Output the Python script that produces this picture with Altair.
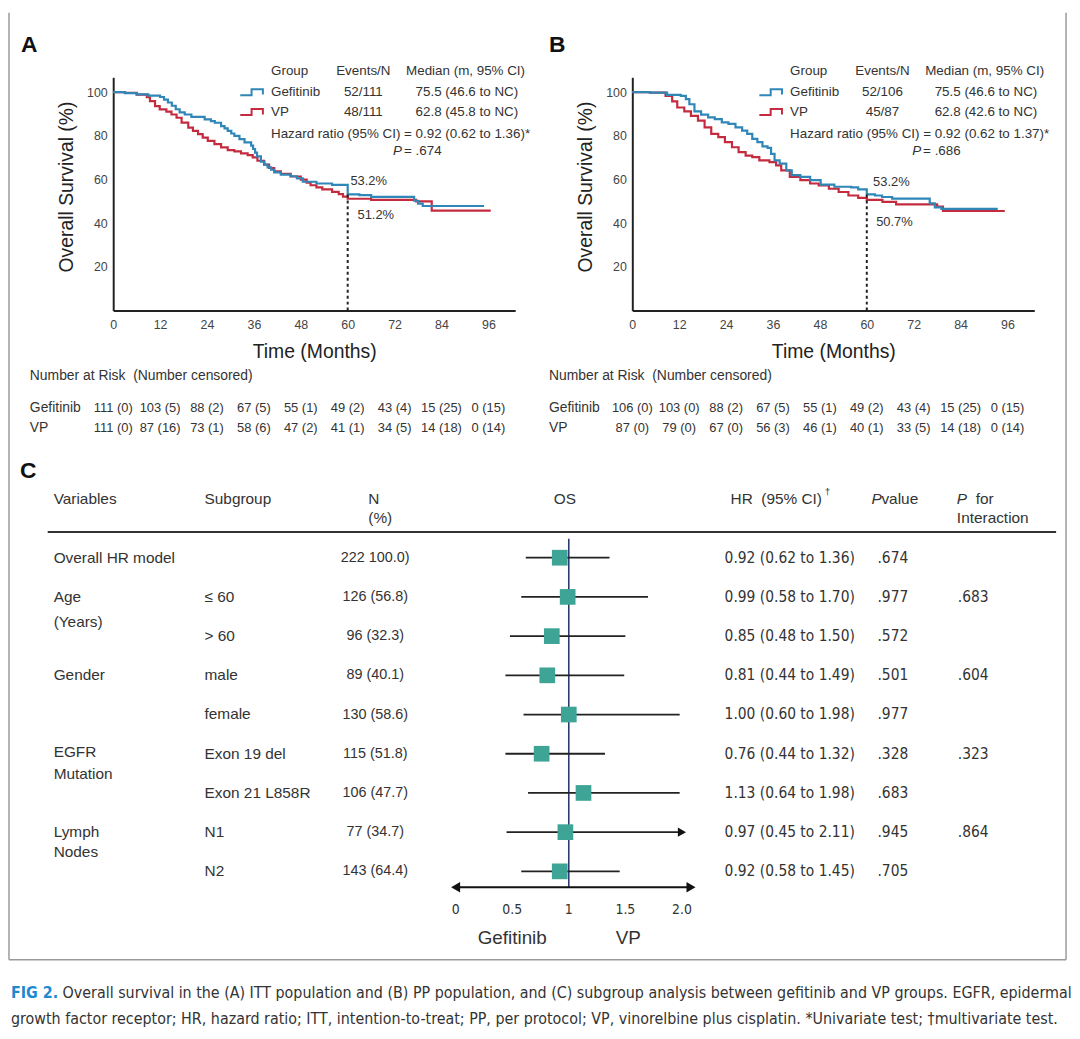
import altair as alt
import pandas as pd

FONT = "Liberation Sans, Arial, Helvetica, sans-serif"
NARROW = "Liberation Sans Narrow, Arial Narrow, DejaVu Sans Condensed, sans-serif"
BLUE = "#2f86b7"
RED = "#c42b3f"
TEAL = "#3ea495"
NAVY = "#2c3b6e"
INK = "#333333"
FIGBLUE = "#1d8ad0"
FRAME = "#9a9a9a"

# ---------------- values ----------------
tick_months = [0, 12, 24, 36, 48, 60, 72, 84, 96]
os_ticks = [20, 40, 60, 80, 100]

# Kaplan-Meier steps (month, overall survival %)
a_gef = [(0, 100), (3, 99.6), (6, 99.0), (9, 98.4), (12, 97.8), (13, 96.6), (14, 95.3), (15, 93.8),
         (16, 92.2), (17, 90.8), (18.3, 89.8), (20, 88.7), (23.4, 87.6), (25, 86.8), (26, 86.0),
         (27.6, 84.5), (28.5, 83.4), (29.3, 82.3), (30.2, 81.1), (31, 80.0), (32.3, 78.5), (33.6, 77.0),
         (35.3, 75.5), (35.8, 74.0), (36.3, 72.3), (36.8, 70.6), (37.8, 68.2), (38.7, 66.8), (39.5, 65.6),
         (40.4, 64.5), (41.2, 63.3), (42.9, 62.3), (45.4, 61.5), (47, 60.5), (48.5, 59.0), (52, 58.2),
         (56, 57.6), (60, 53.2), (63, 52.9), (66, 52.1), (77, 50.3), (78, 49.0), (79.2, 47.9), (94.9, 47.9)]
a_vp = [(0, 100), (3, 99.7), (6, 98.9), (8.6, 97.7), (9.4, 95.9), (10.7, 93.6), (11.9, 92.1), (13.6, 91.1),
        (14.9, 89.8), (16.2, 88.3), (17.5, 86.1), (19.2, 83.8), (20.4, 82.3), (21.7, 80.8), (22.9, 79.2),
        (24.2, 77.7), (25.9, 76.2), (27.6, 74.7), (29.3, 73.5), (31, 72.9), (32.7, 72.0), (34.4, 71.2),
        (35.7, 70.2), (36.9, 68.6), (38.6, 66.8), (39.9, 65.3), (41.2, 63.8), (42.9, 62.6), (45.4, 61.4),
        (48, 60.0), (49.5, 58.6), (50.5, 57.4), (52, 56.4), (53.5, 55.5), (56, 54.4), (57.7, 53.3),
        (58.8, 52.2), (60, 51.2), (66, 50.7), (77.5, 50.0), (81.5, 45.8), (96.6, 45.8)]
b_gef = [(0, 100), (4.5, 99.8), (8.9, 98.8), (12.4, 98.3), (13.7, 96.8), (14.6, 94.5), (15.9, 91.2),
         (17.6, 89.7), (19.4, 88.5), (21.1, 87.7), (22.9, 86.2), (24.6, 85.5), (26.4, 83.9), (28.1, 82.4),
         (29.4, 80.9), (30.7, 78.6), (32, 77.1), (33.3, 75.2), (34.6, 74.5), (35.5, 71.8), (36.4, 68.8),
         (37.7, 67.3), (39.4, 64.2), (40.8, 62.0), (43, 61.2), (45.5, 59.7), (48.2, 57.7), (51.7, 56.7),
         (56, 56.4), (57.8, 55.5), (60, 53.2), (62.1, 52.7), (63.9, 52.0), (66.5, 51.3), (76.1, 49.1),
         (77.4, 47.3), (79.1, 46.6), (93.5, 46.6)]
b_vp = [(0, 100), (4.5, 99.8), (8.5, 98.3), (10.2, 95.8), (11.5, 93.0), (13.3, 91.2), (15, 89.2),
        (16.8, 87.0), (18.5, 83.9), (20.2, 80.9), (22, 79.4), (23.7, 77.1), (25.5, 74.8), (27.2, 72.6),
        (29, 71.0), (30.7, 70.3), (32.5, 68.8), (35.1, 68.0), (36.8, 66.5), (38.1, 64.2), (40.3, 61.2),
        (43, 59.7), (45.5, 58.2), (47.7, 57.3), (50.3, 55.8), (52.8, 54.3), (55.3, 52.7), (57.8, 51.6),
        (60, 50.7), (64, 49.8), (67.5, 48.6), (78, 47.6), (79.5, 45.6), (95.3, 45.6)]

a_risk_gef = ["111 (0)", "103 (5)", "88 (2)", "67 (5)", "55 (1)", "49 (2)", "43 (4)", "15 (25)", "0 (15)"]
a_risk_vp = ["111 (0)", "87 (16)", "73 (1)", "58 (6)", "47 (2)", "41 (1)", "34 (5)", "14 (18)", "0 (14)"]
b_risk_gef = ["106 (0)", "103 (0)", "88 (2)", "67 (5)", "55 (1)", "49 (2)", "43 (4)", "15 (25)", "0 (15)"]
b_risk_vp = ["87 (0)", "79 (0)", "67 (0)", "56 (3)", "46 (1)", "40 (1)", "33 (5)", "14 (18)", "0 (14)"]

groups = ["Gefitinib", "VP"]
a_events = ["52/111", "48/111"]
a_medians = ["75.5 (46.6 to NC)", "62.8 (45.8 to NC)"]
a_hr = "Hazard ratio (95% CI) = 0.92 (0.62 to 1.36)*"
a_p = "= .674"
a_landmarks = [("53.2%", 60.7, 59.5), ("51.2%", 62.5, 43.6)]
b_events = ["52/106", "45/87"]
b_medians = ["75.5 (46.6 to NC)", "62.8 (42.6 to NC)"]
b_hr = "Hazard ratio (95% CI) = 0.92 (0.62 to 1.37)*"
b_p = "= .686"
b_landmarks = [("53.2%", 61.6, 59.0), ("50.7%", 62.4, 40.5)]
landmark_month = 60
landmark_top = 53.2

# Subgroup forest plot
variables = ["Overall HR model", "Age", "(Years)", "Gender", "EGFR", "Mutation", "Lymph", "Nodes"]
variable_rows = [0, 1, 1.65, 3, 4.96, 5.52, 7, 7.5]
subgroups = ["≤ 60", "> 60", "male", "female", "Exon 19 del", "Exon 21 L858R", "N1", "N2"]
subgroup_rows = [1, 2, 3, 4, 5, 6, 7, 8]
n_pct = ["222 100.0)", "126 (56.8)", "96 (32.3)", "89 (40.1)", "130 (58.6)", "115 (51.8)",
         "106 (47.7)", "77 (34.7)", "143 (64.4)"]
hr = [0.92, 0.99, 0.85, 0.81, 1.00, 0.76, 1.13, 0.97, 0.92]
hr_lo = [0.62, 0.58, 0.48, 0.44, 0.60, 0.44, 0.64, 0.45, 0.58]
hr_hi = [1.36, 1.70, 1.50, 1.49, 1.98, 1.32, 1.98, 2.11, 1.45]
p_value = [".674", ".977", ".572", ".501", ".977", ".328", ".683", ".945", ".705"]
p_interaction = [".683", ".604", ".323", ".864"]
p_interaction_rows = [1, 3, 5, 7]
forest_ticks = [0, 0.5, 1, 1.5, 2]
forest_tick_labels = ["0", "0.5", "1", "1.5", "2.0"]
forest_max = 2.0

caption_head = "FIG 2."
caption_1 = ("Overall survival in the (A) ITT population and (B) PP population, and (C) subgroup analysis "
             "between gefitinib and VP groups. EGFR, epidermal")
caption_2 = ("growth factor receptor; HR, hazard ratio; ITT, intention-to-treat; PP, per protocol; VP, "
             "vinorelbine plus cisplatin. *Univariate test; \u2020multivariate test.")

# ---------------- layout ----------------
ONE = pd.DataFrame({"k": [0]})
KM_W, KM_H = 405, 235
KM_XMAX = KM_W / 3.9375
KM_YMAX = KM_H / 2.2
OX, OY = 113, 73          # page position of panel A plot origin
C_OY, C_H = 480, 482
ROW0_Y, ROW_STEP = 557, 39.5


def label(text, x, y, size=13.5, align="left", weight="normal", style="normal", color=INK, font=FONT):
    return alt.Chart(ONE).mark_text(text=text, align=align, baseline="middle", fontSize=size,
                                    fontWeight=weight, fontStyle=style, color=color, font=font).encode(
        x=alt.value(x), y=alt.value(y))


STEP_ICON = "M-1,0.25H-0.05V-0.25H0.9V0.2"


def km_panel(letter, letter_x, gef, vp, risk_gef, risk_vp, events, medians, hr_text, p_text, landmarks):
    X = alt.X("month:Q", scale=alt.Scale(domain=[0, KM_XMAX], nice=False, zero=False),
              axis=alt.Axis(values=tick_months, title="Time (Months)", grid=False, ticks=False, tickSize=0,
                            labelPadding=8, labelFontSize=12.5, labelColor="#444", labelFont=FONT,
                            labelFlush=False, labelOverlap=False, domainColor="#222", domainWidth=2,
                            titleFont=FONT, titleFontSize=19.5, titleFontWeight="normal", titleColor="#222",
                            titleY=41, titleBaseline="middle"))
    Y = alt.Y("surv:Q", scale=alt.Scale(domain=[0, KM_YMAX], nice=False, zero=False),
              axis=alt.Axis(values=os_ticks, title="Overall Survival (%)", grid=False, ticks=False, tickSize=0,
                            labelPadding=6, labelFontSize=12.5, labelColor="#444", labelFont=FONT,
                            labelFlush=False, labelOverlap=False, domainColor="#222", domainWidth=2,
                            titleFont=FONT, titleFontSize=19.5, titleFontWeight="normal", titleColor="#222",
                            titleX=-47, titleY=110, titleAngle=270, titleBaseline="middle",
                            titleAlign="center"))
    layers = []
    for data, color in [(vp, RED), (gef, BLUE)]:
        layers.append(alt.Chart(pd.DataFrame(data, columns=["month", "surv"])).mark_line(
            interpolate="step-after", strokeWidth=2.2, color=color).encode(x=X, y=Y))
    layers.append(alt.Chart(pd.DataFrame({"month": [landmark_month], "surv": [0], "surv2": [landmark_top]}))
                  .mark_rule(strokeDash=[3, 3], strokeWidth=2, color="#222")
                  .encode(x=X, y=Y, y2="surv2:Q"))
    layers.append(alt.Chart(pd.DataFrame(landmarks, columns=["label", "month", "surv"])).mark_text(
        align="left", baseline="middle", fontSize=13, font=FONT, color=INK).encode(x=X, y=Y, text="label:N"))
    # risk table
    layers.append(label("Number at Risk\u00a0\u00a0(Number censored)", -84, 301, size=14))
    for row_y, name, vals in [(333, groups[0], risk_gef), (353, groups[1], risk_vp)]:
        layers.append(label(name, -84, row_y, size=14))
        layers.append(alt.Chart(pd.DataFrame({"month": tick_months, "label": vals})).mark_text(
            align="center", baseline="middle", fontSize=13, font=FONT, color=INK).encode(
            x=X, y=alt.value(row_y), text="label:N"))
    # legend block
    layers.append(label(letter, letter_x, -33, size=23, weight="bold", color="#111"))
    layers.append(label("Group", 159, -6))
    layers.append(label("Events/N", 252, -6, align="center"))
    layers.append(label("Median (m, 95% CI)", 355, -6, align="center"))
    for i, (row_y, color) in enumerate([(15, BLUE), (35, RED)]):
        layers.append(alt.Chart(ONE).mark_point(shape=STEP_ICON, size=576, filled=False, strokeWidth=2,
                                                color=color, opacity=1).encode(
            x=alt.value(140), y=alt.value(row_y)))
        layers.append(label(groups[i], 159, row_y))
        layers.append(label(events[i], 252, row_y, align="center"))
        layers.append(label(medians[i], 408, row_y, align="right"))
    layers.append(label(hr_text, 159, 57))
    layers.append(label("P", 282, 74, style="italic"))
    layers.append(label(p_text, 293, 74))
    return alt.layer(*layers).properties(width=KM_W, height=KM_H)


panel_a = km_panel("A", 20 - OX, a_gef, a_vp, a_risk_gef, a_risk_vp, a_events, a_medians, a_hr, a_p,
                   a_landmarks)
panel_b = km_panel("B", 552 - 636, b_gef, b_vp, b_risk_gef, b_risk_vp, b_events, b_medians, b_hr, b_p,
                   b_landmarks)

# ---------------- panel C ----------------
R0 = (C_OY - ROW0_Y) / ROW_STEP
R1 = (C_OY + C_H - ROW0_Y) / ROW_STEP


def r_of(y):
    return (y - ROW0_Y) / ROW_STEP


YC = alt.Y("r:Q", scale=alt.Scale(domain=[R0, R1], reverse=True, nice=False, zero=False), axis=None)
XSC = alt.Scale(domain=[0, 2], range=[458 - OX, 686 - OX], nice=False, zero=False)


def column(texts, rows, x, size=15.5, align="left", font=FONT, color=INK, style="normal", weight="normal"):
    df = pd.DataFrame({"r": rows, "label": texts})
    return alt.Chart(df).mark_text(align=align, baseline="middle", fontSize=size, font=font, color=color,
                                   fontStyle=style, fontWeight=weight).encode(
        x=alt.value(x), y=YC, text="label:N")


rows = list(range(len(hr)))
hr_text = [f"{h:.2f} ({l:.2f} to {u:.2f})" for h, l, u in zip(hr, hr_lo, hr_hi)]
forest = pd.DataFrame({"r": rows, "hr": hr, "lo": hr_lo, "hi": [min(u, forest_max) for u in hr_hi]})
truncated = forest[[u > forest_max for u in hr_hi]]

c_layers = []
frame_v = pd.DataFrame({"r": [r_of(8)], "r2": [R1]})
for fx in (8 - OX, 1073 - OX):
    c_layers.append(alt.Chart(frame_v).mark_rule(color=FRAME, strokeWidth=1.5).encode(
        x=alt.value(fx), y=YC, y2="r2:Q"))
c_layers.append(alt.Chart(pd.DataFrame({"r": [R1]})).mark_rule(color=FRAME, strokeWidth=1.5).encode(
    x=alt.value(8 - OX), x2=alt.value(1073 - OX), y=YC))

c_layers.append(column(["C"], [r_of(470)], 19 - OX, size=23, weight="bold", color="#111"))
hy, hy2 = r_of(498), r_of(517)
c_layers += [
    column(["Variables"], [hy], 53 - OX),
    column(["Subgroup"], [hy], 205 - OX),
    column(["N", "(%)"], [hy, hy2], 370 - OX),
    column(["OS"], [hy], 568 - OX, align="center"),
    column(["HR\u00a0\u00a0(95% CI)"], [hy], 735 - OX),
    column(["\u2020"], [r_of(491)], 830 - OX, size=10),
    column(["P"], [hy], 877 - OX, style="italic"),
    column(["value"], [hy], 887 - OX),
    column(["P"], [hy], 963 - OX, style="italic"),
    column(["for"], [hy], 982 - OX),
    column(["Interaction"], [hy2], 963 - OX),
]
c_layers.append(alt.Chart(pd.DataFrame({"r": [r_of(531)]})).mark_rule(color="#333", strokeWidth=2).encode(
    x=alt.value(47 - OX), x2=alt.value(1063 - OX), y=YC))

c_layers += [
    column(variables, variable_rows, 53 - OX),
    column(subgroups, subgroup_rows, 205 - OX),
    column(n_pct, rows, 377 - OX, align="center", size=14.5),
    column(hr_text, rows, 729 - OX, font=NARROW, size=15.5),
    column(p_value, rows, 883 - OX, font=NARROW, size=15.5),
    column(p_interaction, p_interaction_rows, 964 - OX, font=NARROW, size=15.5),
]

XH = alt.X("hr:Q", scale=XSC, axis=None)
c_layers.append(alt.Chart(pd.DataFrame({"hr": [1], "r": [r_of(538)], "r2": [r_of(889)]})).mark_rule(
    color=NAVY, strokeWidth=1.6).encode(x=XH, y=YC, y2="r2:Q"))
c_layers.append(alt.Chart(forest).mark_rule(color="#222", strokeWidth=1.8).encode(
    x=alt.X("lo:Q", scale=XSC, axis=None), x2="hi:Q", y=YC))
c_layers.append(alt.Chart(forest).mark_square(size=250, color=TEAL, opacity=1).encode(x=XH, y=YC))
c_layers.append(alt.Chart(truncated).mark_point(shape="triangle-right", filled=True, size=90, color="#111",
                                                opacity=1).encode(x=alt.X("hi:Q", scale=XSC, axis=None), y=YC))
# axis arrow
arrow_r = r_of(889)
c_layers.append(alt.Chart(pd.DataFrame({"hr": [0.0], "hr2": [2.08], "r": [arrow_r]})).mark_rule(
    color="#111", strokeWidth=1.8).encode(x=XH, x2="hr2:Q", y=YC))
for end, shape in [(0.0, "triangle-left"), (2.08, "triangle-right")]:
    c_layers.append(alt.Chart(pd.DataFrame({"hr": [end], "r": [arrow_r]})).mark_point(
        shape=shape, filled=True, size=110, color="#111", opacity=1).encode(x=XH, y=YC))
c_layers.append(alt.Chart(pd.DataFrame({"hr": forest_ticks, "label": forest_tick_labels,
                                        "r": [r_of(912)] * len(forest_ticks)})).mark_text(
    align="center", baseline="middle", fontSize=14, font=NARROW, color=INK).encode(x=XH, y=YC, text="label:N"))
c_layers.append(column(["Gefitinib"], [r_of(940)], 515 - OX, align="center", size=19))
c_layers.append(column(["VP"], [r_of(940)], 632 - OX, align="center", size=19))

# caption
c_layers.append(column([caption_head], [r_of(996)], 10 - OX, size=16, font=NARROW, weight="bold",
                       color=FIGBLUE))
c_layers.append(column([caption_1], [r_of(996)], 62 - OX, size=16, font=NARROW))
c_layers.append(column([caption_2], [r_of(1022)], 10 - OX, size=16, font=NARROW))

panel_c = alt.layer(*c_layers).properties(width=KM_W, height=C_H)

chart = alt.concat(panel_a, panel_b, panel_c, columns=2,
                   spacing={"row": C_OY - OY - KM_H, "column": 636 - OX - KM_W},
                   bounds="flush").properties(padding=0).configure(
    background="white", view=alt.ViewConfig(strokeWidth=0))

chart.save("out.html", embed_options={"renderer": "svg", "actions": False})
